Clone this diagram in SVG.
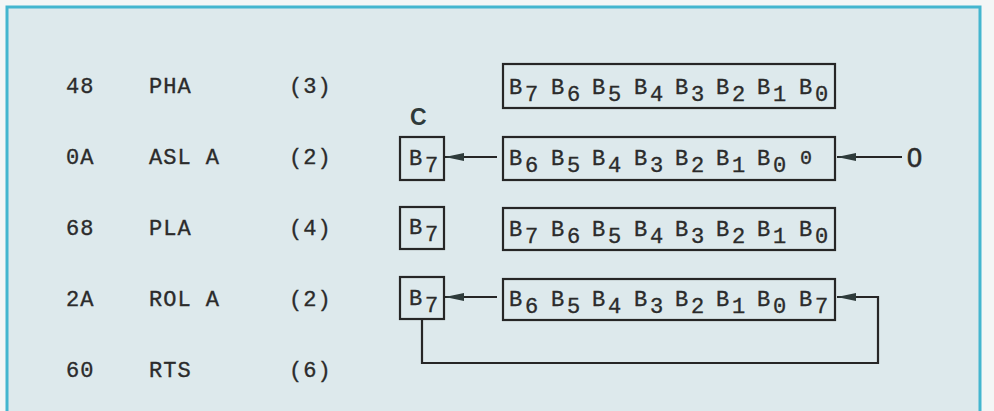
<svg xmlns="http://www.w3.org/2000/svg" width="994" height="411" viewBox="0 0 994 411">
<defs>
<style>
.t{font-family:"Liberation Mono","DejaVu Sans Mono",monospace;font-size:22px;fill:#2b2b2b;stroke:#2b2b2b;stroke-width:0.35;letter-spacing:1px}
.b{font-family:"Liberation Mono","DejaVu Sans Mono",monospace;font-size:22px;fill:#2b2b2b;stroke:#2b2b2b;stroke-width:0.35}
.box{fill:none;stroke:#262626;stroke-width:2.2}
.ln{fill:none;stroke:#262626;stroke-width:2.2}
.lbl{font-family:"Liberation Sans",Arial,sans-serif;font-weight:bold;font-size:23px;fill:#2f3a3a}
.zero{font-family:"Liberation Sans",Arial,sans-serif;font-size:27px;fill:#2b2b2b;stroke:#2b2b2b;stroke-width:0.6}
</style>
<marker id="ah" markerWidth="20" markerHeight="12" refX="19" refY="6" orient="auto" markerUnits="userSpaceOnUse">
<path d="M0,2 L19,6 L0,10 Z" fill="#2e3b3b"/>
</marker>
</defs>
<rect x="0" y="0" width="994" height="411" fill="#f3f6f6"/>
<path d="M7,415 L7,7 L980,7 L980,415 Z" fill="#dde9ec" stroke="#44b6cf" stroke-width="3"/>

<g id="code">
<text class="t" x="66" y="93">48</text><text class="t" x="149" y="93">PHA</text><text class="t" x="289" y="93">(3)</text>
<text class="t" x="66" y="164">0A</text><text class="t" x="149" y="164">ASL A</text><text class="t" x="289" y="164">(2)</text>
<text class="t" x="66" y="235">68</text><text class="t" x="149" y="235">PLA</text><text class="t" x="289" y="235">(4)</text>
<text class="t" x="66" y="306">2A</text><text class="t" x="149" y="306">ROL A</text><text class="t" x="289" y="306">(2)</text>
<text class="t" x="66" y="377">60</text><text class="t" x="149" y="377">RTS</text><text class="t" x="289" y="377">(6)</text>
</g>

<g id="reg1">
<rect class="box" x="503" y="64" width="332" height="44"/>
<text class="b" y="94"><tspan x="509">B</tspan><tspan x="525" dy="7">7</tspan><tspan x="551" dy="-7">B</tspan><tspan x="567" dy="7">6</tspan><tspan x="592" dy="-7">B</tspan><tspan x="608" dy="7">5</tspan><tspan x="634" dy="-7">B</tspan><tspan x="650" dy="7">4</tspan><tspan x="675" dy="-7">B</tspan><tspan x="691" dy="7">3</tspan><tspan x="716" dy="-7">B</tspan><tspan x="732" dy="7">2</tspan><tspan x="757" dy="-7">B</tspan><tspan x="773" dy="7">1</tspan><tspan x="799" dy="-7">B</tspan><tspan x="815" dy="7">0</tspan></text>
</g>

<g id="carry-label"><text class="lbl" x="410" y="125">C</text></g>

<g id="c2">
<rect class="box" x="400" y="137" width="44" height="43"/>
<text class="b" y="165"><tspan x="409">B</tspan><tspan x="425" dy="7">7</tspan></text>
</g>
<g id="reg2">
<rect class="box" x="503" y="137" width="332" height="43"/>
<text class="b" y="165"><tspan x="509">B</tspan><tspan x="525" dy="7">6</tspan><tspan x="551" dy="-7">B</tspan><tspan x="567" dy="7">5</tspan><tspan x="592" dy="-7">B</tspan><tspan x="608" dy="7">4</tspan><tspan x="634" dy="-7">B</tspan><tspan x="650" dy="7">3</tspan><tspan x="675" dy="-7">B</tspan><tspan x="691" dy="7">2</tspan><tspan x="716" dy="-7">B</tspan><tspan x="732" dy="7">1</tspan><tspan x="757" dy="-7">B</tspan><tspan x="773" dy="7">0</tspan><tspan x="800" dy="-8" font-size="20">0</tspan></text>
</g>
<g id="zero-in"><text class="zero" x="907" y="167">0</text></g>

<g id="c3">
<rect class="box" x="400" y="207" width="44" height="42"/>
<text class="b" y="234"><tspan x="409">B</tspan><tspan x="425" dy="7">7</tspan></text>
</g>
<g id="reg3">
<rect class="box" x="503" y="208" width="332" height="42"/>
<text class="b" y="236"><tspan x="509">B</tspan><tspan x="525" dy="7">7</tspan><tspan x="551" dy="-7">B</tspan><tspan x="567" dy="7">6</tspan><tspan x="592" dy="-7">B</tspan><tspan x="608" dy="7">5</tspan><tspan x="634" dy="-7">B</tspan><tspan x="650" dy="7">4</tspan><tspan x="675" dy="-7">B</tspan><tspan x="691" dy="7">3</tspan><tspan x="716" dy="-7">B</tspan><tspan x="732" dy="7">2</tspan><tspan x="757" dy="-7">B</tspan><tspan x="773" dy="7">1</tspan><tspan x="799" dy="-7">B</tspan><tspan x="815" dy="7">0</tspan></text>
</g>

<g id="c4">
<rect class="box" x="400" y="277" width="44" height="42"/>
<text class="b" y="305"><tspan x="409">B</tspan><tspan x="425" dy="7">7</tspan></text>
</g>
<g id="reg4">
<rect class="box" x="503" y="279" width="332" height="41"/>
<text class="b" y="306"><tspan x="509">B</tspan><tspan x="525" dy="7">6</tspan><tspan x="551" dy="-7">B</tspan><tspan x="567" dy="7">5</tspan><tspan x="592" dy="-7">B</tspan><tspan x="608" dy="7">4</tspan><tspan x="634" dy="-7">B</tspan><tspan x="650" dy="7">3</tspan><tspan x="675" dy="-7">B</tspan><tspan x="691" dy="7">2</tspan><tspan x="716" dy="-7">B</tspan><tspan x="732" dy="7">1</tspan><tspan x="757" dy="-7">B</tspan><tspan x="773" dy="7">0</tspan><tspan x="799" dy="-7">B</tspan><tspan x="815" dy="7">7</tspan></text>
</g>

<g id="connectors">
<path class="ln" d="M497,157 L445,157" marker-end="url(#ah)"/>
<path class="ln" d="M902,157 L837,157" marker-end="url(#ah)"/>
<path class="ln" d="M497,297 L445,297" marker-end="url(#ah)"/>
<path class="ln" d="M422,319 L422,363 L878,363 L878,297 L837,297" marker-end="url(#ah)"/>
</g>
</svg>
